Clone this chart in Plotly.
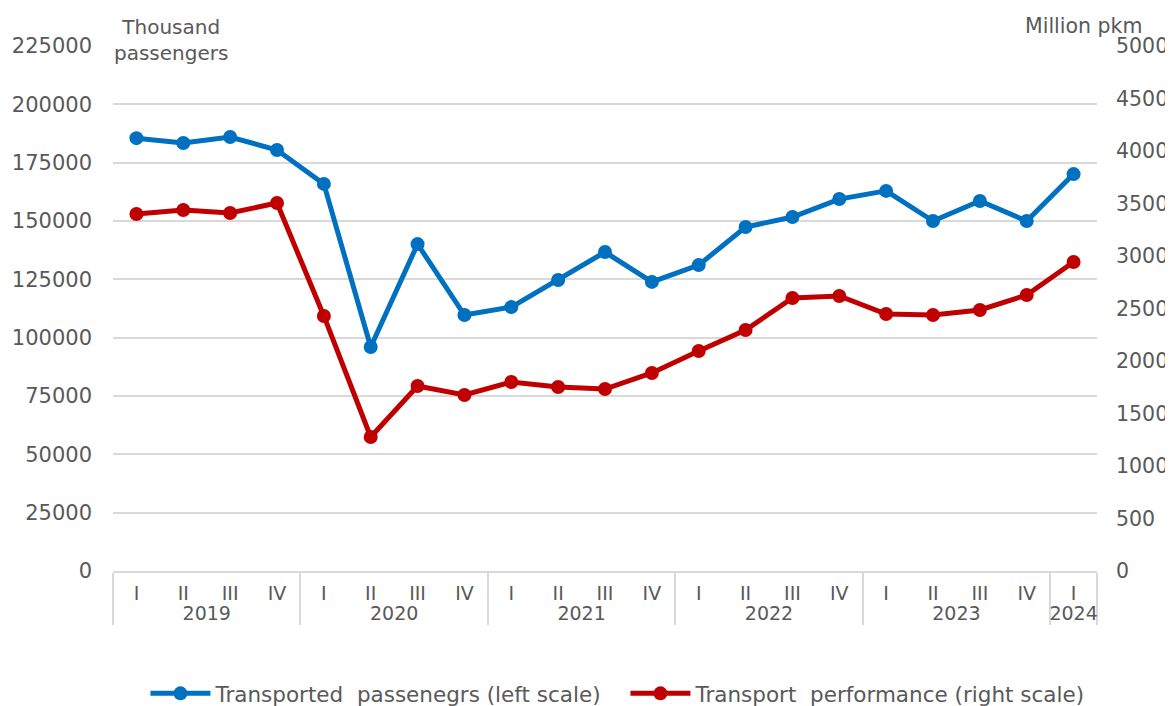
import plotly.graph_objects as go

years = ["2019"] * 4 + ["2020"] * 4 + ["2021"] * 4 + ["2022"] * 4 + ["2023"] * 4 + ["2024"]
quarters = ["I", "II", "III", "IV"] * 5 + ["I"]

passengers = [185500, 183400, 186000, 180400,
              165900, 96000, 140100, 109700,
              113100, 124700, 136700, 123900,
              131100, 147400, 151700, 159400,
              162900, 150000, 158600, 150000,
              170100]

performance = [3400, 3438, 3410, 3505,
               2429, 1276, 1762, 1676,
               1800, 1752, 1733, 1886,
               2095, 2295, 2600, 2619,
               2448, 2438, 2486, 2629,
               2943]

left_ticks = list(range(0, 225001, 25000))
right_ticks = list(range(0, 5001, 500))

BLUE = "#0070C0"
RED = "#C00000"
GREY = "#595959"
FONT = "DejaVu Sans"

fig = go.Figure()
fig.add_trace(go.Scatter(
    x=[years, quarters], y=passengers,
    name="Transported\u00a0 passenegrs (left scale)",
    mode="lines+markers",
    line=dict(color=BLUE, width=5),
    marker=dict(color=BLUE, size=14),
    yaxis="y",
))
fig.add_trace(go.Scatter(
    x=[years, quarters], y=performance,
    name="Transport\u00a0 performance (right scale)",
    mode="lines+markers",
    line=dict(color=RED, width=5),
    marker=dict(color=RED, size=14),
    yaxis="y2",
))

# page body has an 8px margin, so the figure is drawn at (8, 8)
fig.update_layout(
    width=1165, height=698,
    margin=dict(l=105, r=76, t=38, b=135, autoexpand=False),
    paper_bgcolor="white", plot_bgcolor="white",
    font=dict(family=FONT, size=20, color=GREY),
    showlegend=True,
    legend=dict(orientation="h", xref="container", x=0.53, xanchor="center",
                y=-0.194, yanchor="top",
                font=dict(size=21.5, color=GREY), itemwidth=60, entrywidth=405,
                traceorder="normal"),
    xaxis=dict(
        type="multicategory",
        range=[-0.5, 20.5],
        automargin=False,
        showgrid=False,
        showline=True, linecolor="#d9d9d9", linewidth=2,
        showdividers=True, dividercolor="#d9d9d9", dividerwidth=2,
        tickfont=dict(size=19, color=GREY),
        ticks="", ticklabelstandoff=4,
    ),
    yaxis=dict(
        range=[0, 225000], tickvals=left_ticks, ticktext=[str(v) for v in left_ticks],
        automargin=False,
        showgrid=True, gridcolor="#d9d9d9", gridwidth=2,
        zeroline=False, showline=False,
        tickfont=dict(size=21, color=GREY), ticklabelstandoff=20,
    ),
    yaxis2=dict(
        range=[0, 5000], tickvals=right_ticks, ticktext=[str(v) for v in right_ticks],
        automargin=False,
        overlaying="y", side="right", showgrid=False, zeroline=False, showline=False,
        tickfont=dict(size=20.5, color=GREY), ticklabelstandoff=18,
    ),
    annotations=[
        dict(text="Thousand<br>passengers", xref="paper", yref="paper", x=0.059, y=1.0,
             xanchor="center", yanchor="bottom", align="center", showarrow=False,
             font=dict(size=20, color=GREY), yshift=-21),
        dict(text="Million pkm", xref="paper", yref="paper", x=1.048, y=1.0,
             xanchor="right", yanchor="bottom", showarrow=False,
             font=dict(size=20.5, color=GREY), yshift=6),
    ],
)

fig.write_html("out.html")
